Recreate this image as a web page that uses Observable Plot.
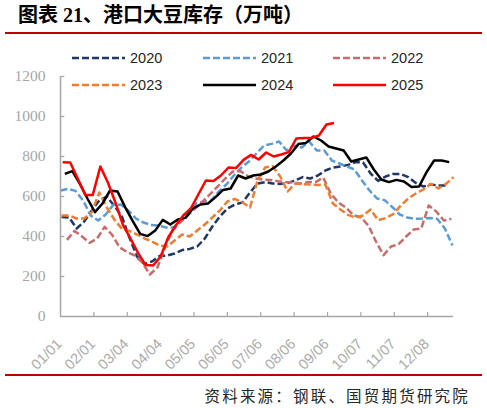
<!DOCTYPE html>
<html>
<head>
<meta charset="utf-8">
<script src="https://cdn.jsdelivr.net/npm/d3@7"></script>
<script src="https://cdn.jsdelivr.net/npm/@observablehq/plot@0.6"></script>
<style>
  html, body { margin: 0; padding: 0; background: #fff; }
  #wrap { position: relative; width: 487px; height: 408px; overflow: hidden; background: #fff; }
  #wrap > svg { position: absolute; left: 0; top: 0; }
  .title { position: absolute; left: 18px; top: 3px; font-family: "Liberation Serif", "Noto Sans CJK SC", serif; font-weight: bold; font-size: 20px; color: #000; white-space: nowrap; line-height: 24px; }
  .rule { position: absolute; left: 5px; width: 477px; height: 2px; background: #C00000; }
  .legend { position: absolute; left: 0; top: 0; width: 487px; height: 120px; font-family: "Liberation Sans", Arial, sans-serif; font-size: 14.5px; color: #262626; }
  .item { position: absolute; display: flex; align-items: center; white-space: nowrap; height: 20px; }
  .item svg { display: block; margin-right: 5px; }
  .source { position: absolute; right: 17px; top: 385px; font-family: "Noto Sans CJK SC", sans-serif; font-size: 15.5px; letter-spacing: 2.2px; color: #262626; white-space: nowrap; line-height: 20px; }
</style>
</head>
<body>
<div id="wrap">
  <div class="title">图表 21、港口大豆库存（万吨）</div>
  <div class="rule" style="top:32px"></div>
  <div class="rule" style="top:374px"></div>
  <div class="source">资料来源：钢联、国贸期货研究院</div>
</div>
<script>
// ---- data ----
const seriesNames = ["2020", "2021", "2022", "2023", "2024", "2025"];
const startDays = [1, 0, 6, 1, 4, 2]; // day-of-year of first weekly observation
const v2020 = [497,495,440,475,530,580,600,553,500,395,300,262,275,302,305,315,332,338,350,390,450,500,540,560,570,620,665,672,665,663,668,680,697,690,705,730,745,750,758,772,770,715,678,700,713,713,697,668,650,660,655,655];
const v2021 = [630,638,628,580,505,480,510,558,560,530,490,470,458,455,445,445,480,520,565,575,580,625,660,705,745,775,815,855,863,875,830,855,845,875,830,830,780,765,750,735,680,630,590,582,548,510,495,488,490,493,488,440,355];
const v2022 = [383,428,400,368,390,448,408,345,322,305,270,210,245,345,430,470,505,540,575,612,650,690,725,727,702,690,685,683,676,672,670,665,672,672,695,615,570,545,507,495,455,375,307,350,362,400,435,440,555,525,480,488];
const v2023 = [505,505,490,490,522,620,545,485,438,428,410,390,375,355,350,380,410,400,430,460,495,530,575,588,570,545,680,745,752,700,625,665,662,660,657,660,565,535,508,495,505,535,482,492,512,555,590,615,635,663,640,663,697];
const v2024 = [713,727,663,590,522,565,630,625,547,478,413,402,430,483,460,485,493,540,560,565,597,633,640,705,690,705,710,725,750,780,815,862,868,900,880,850,840,830,775,785,795,735,685,672,683,675,647,650,722,780,780,772];
const v2025 = [771,770,690,608,608,750,670,570,458,390,318,258,255,300,395,455,505,540,610,680,677,705,745,742,783,808,785,820,800,810,822,890,893,893,905,960,967];
const xTickDays = [0,31,62,93,124,155,186,217,248,279,310,341];
const xTickLabels = ["01/01","02/01","03/04","04/04","05/05","06/05","07/06","08/06","09/06","10/07","11/07","12/08"];
const yTicks = [0,200,400,600,800,1000,1200];

// ---- styles ----
const colors = ["#1F3864", "#5B9BD5", "#C86B6B", "#ED7D31", "#000000", "#FF0000"];
const dashes = ["7,3", "7,3", "7,3", "7,3", null, null];
const allValues = [v2020, v2021, v2022, v2023, v2024, v2025];

const rows = [];
seriesNames.forEach((s, k) => {
  allValues[k].forEach((v, i) => rows.push({series: s, day: startDays[k] + 7 * i, value: v}));
});

const gray = "#A6A6A6";
const lineMarks = seriesNames.map((s, k) =>
  Plot.line(rows.filter(r => r.series === s), {
    x: "day", y: "value", stroke: colors[k], strokeWidth: 2.5,
    strokeDasharray: dashes[k] || undefined, strokeLinejoin: "round", strokeLinecap: "butt"
  })
);

const chart = Plot.plot({
  width: 487, height: 408,
  marginLeft: 60, marginRight: 34, marginTop: 76, marginBottom: 92,
  x: {domain: [0, 365], axis: null},
  y: {domain: [0, 1200], axis: null},
  style: {background: "transparent", overflow: "visible"},
  marks: [
    ...lineMarks,
    Plot.ruleX([0], {stroke: gray, strokeWidth: 1.5}),
    Plot.ruleY([0], {stroke: gray, strokeWidth: 1.5}),
    Plot.ruleX(xTickDays.slice(1), {x: d => d, y1: 0, y2: 20, stroke: gray, strokeWidth: 1.2}),
    Plot.ruleY(yTicks.slice(1), {y: d => d, x1: 0, x2: 4, stroke: gray, strokeWidth: 1.2}),
    Plot.text(yTicks, {x: 0, y: d => d, text: d => String(d), textAnchor: "end", dx: -15,
      fill: "#A6A6A6", fontFamily: "Liberation Serif", fontSize: 15.5}),
    Plot.text(xTickDays, {x: d => d, y: 0, text: (d, i) => xTickLabels[i], rotate: -45, textAnchor: "end",
      dx: -1, dy: 25, fill: "#ABABAB", fontFamily: "Liberation Sans", fontSize: 14.5})
  ]
});
const wrap = document.getElementById("wrap");
wrap.insertBefore(chart, wrap.firstChild);

// ---- legend ----
const legend = document.createElement("div");
legend.className = "legend";
const colX = [72, 203, 333];
const rowY = [58, 85];
const ns = "http://www.w3.org/2000/svg";
seriesNames.forEach((s, k) => {
  const item = document.createElement("div");
  item.className = "item";
  item.style.left = colX[k % 3] + "px";
  item.style.top = (rowY[Math.floor(k / 3)] - 10) + "px";
  const sv = document.createElementNS(ns, "svg");
  sv.setAttribute("width", "53"); sv.setAttribute("height", "20");
  const ln = document.createElementNS(ns, "line");
  ln.setAttribute("x1", "0"); ln.setAttribute("x2", "53");
  ln.setAttribute("y1", "10"); ln.setAttribute("y2", "10");
  ln.setAttribute("stroke", colors[k]); ln.setAttribute("stroke-width", "2.5");
  if (dashes[k]) ln.setAttribute("stroke-dasharray", dashes[k]);
  sv.appendChild(ln);
  item.appendChild(sv);
  const t = document.createElement("span");
  t.textContent = s;
  item.appendChild(t);
  legend.appendChild(item);
});
wrap.appendChild(legend);
</script>
</body>
</html>
